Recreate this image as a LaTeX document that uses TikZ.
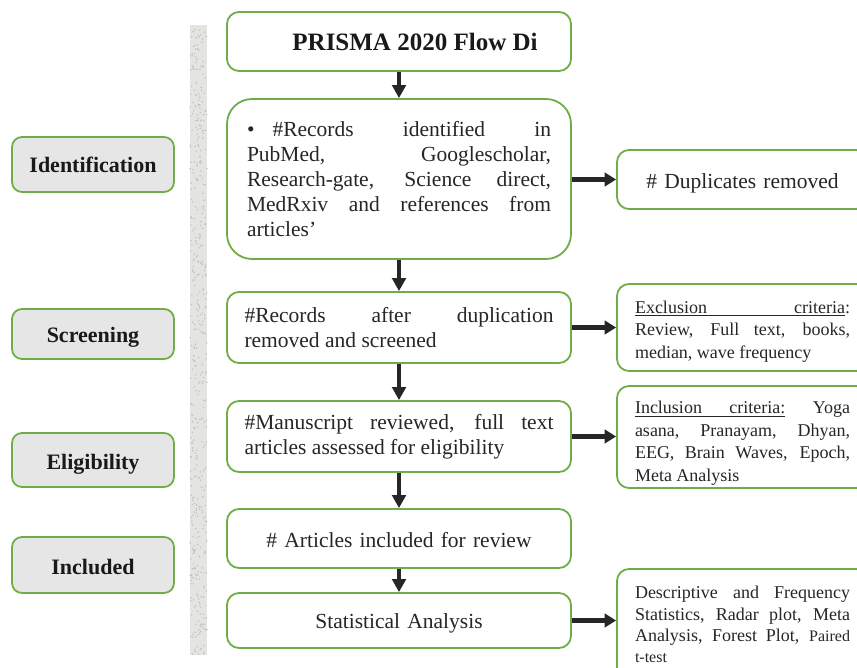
\documentclass[tikz,border=0pt]{standalone}
\usepackage{fontspec}
\setmainfont{Liberation Serif}
\usetikzlibrary{arrows.meta}
\definecolor{grn}{HTML}{70AD47}
\definecolor{lbl}{HTML}{E7E6E6}
\definecolor{strip}{HTML}{E4E4E0}
\definecolor{txt}{HTML}{262626}
\newcommand\ulw[1]{\setbox0\hbox{#1}\rlap{\rule[-2.6pt]{\wd0}{0.9pt}}\box0\relax}
\newcommand\ulsp{\leaders\hrule height -1.7pt depth 2.6pt\hskip\fontdimen2\font plus\fontdimen3\font minus\fontdimen4\font}
\newcommand\tp[1]{\rule{0pt}{#1pt}}
\begin{document}
\begin{tikzpicture}[x=1pt,y=-1pt,
  box/.style={draw=grn, line width=1.8pt, rounded corners=12pt, fill=white, inner sep=0pt, text=txt},
  mainbox/.style={box, minimum width=344pt, text width=309pt, align=justify, font=\fontsize{21.5}{25}\selectfont},
  sidebox/.style={box, minimum width=251pt, text width=215pt, align=justify, font=\fontsize{18}{22.5}\selectfont},
  stagebox/.style={box, fill=lbl, rounded corners=10pt, minimum width=162pt, font=\bfseries\fontsize{22}{26}\selectfont, text=black!90},
  varr/.style={line width=4.6pt, -{Triangle[length=13pt,width=13.5pt]}, draw=black!85},
  harr/.style={line width=5.5pt, -{Triangle[length=11.5pt,width=13.5pt]}, draw=black!85}
]
\clip (0,0) rectangle (857,668);
\fill[white] (0,0) rectangle (857,668);
% textured strip
\fill[strip] (190,25) rectangle (207,655);
\pgfmathsetseed{7}
\foreach \i in {1,...,450}{
  \pgfmathsetmacro\xx{190+17*rnd}
  \pgfmathsetmacro\yy{25+630*rnd}
  \fill[gray!50] (\xx,\yy) circle (0.8pt);
}
% stage labels
\node[stagebox, minimum height=55pt] (sid) at (93,164.5) {Identification};
\node[stagebox, minimum height=50pt] (ssc) at (93,334) {\tp{21}Screening};
\node[stagebox, minimum height=54pt] (sel) at (93,460) {\tp{23}Eligibility};
\node[stagebox, minimum height=56pt] (sin) at (93,565) {\tp{19}Included};
% main column
\node[box, minimum width=344pt, minimum height=59pt, font=\bfseries\fontsize{25}{30}\selectfont, text=black!90] (title) at (399,41.5) {\hspace*{32pt}PRISMA 2020 Flow Di};
\node[mainbox, rounded corners=25pt, minimum height=160pt, text width=304pt] (b1) at (399,179)
 {\hangindent=17pt\hangafter=1 \textbullet\hspace{18pt}\#Records identified in\linebreak PubMed, Googlescholar,\linebreak Research-gate, Science direct,\linebreak MedRxiv and references from\linebreak articles'};
\node[mainbox, minimum height=71pt] (b2) at (399,327.5) {\#Records after duplication\linebreak removed and screened};
\node[mainbox, minimum height=71pt] (b3) at (399,436.5) {\#Manuscript reviewed, full text\linebreak articles assessed for eligibility};
\node[mainbox, minimum height=59pt, align=center] (b4) at (399,538.5) {\tp{18.5}\# Articles included for review};
\node[mainbox, minimum height=55pt, align=center] (b5) at (399,620.5) {\tp{20.5}Statistical Analysis};
% side column
\node[sidebox, minimum height=59pt, align=center, font=\fontsize{21.5}{25}\selectfont] (dup) at (742.5,179.5) {\tp{22.5}\# Duplicates removed};
\node[sidebox, minimum height=87pt] (exc) at (742.5,327.5) {\tp{20}\ulw{Exclusion}\ulsp\ulw{criteria}:\linebreak Review, Full text, books,\linebreak median, wave frequency};
\node[sidebox, minimum height=102pt] (inc) at (742.5,437) {\tp{25}\ulw{Inclusion}\ulsp\ulw{criteria:} Yoga\linebreak asana, Pranayam, Dhyan,\linebreak EEG, Brain Waves, Epoch,\linebreak Meta Analysis};
\node[sidebox, minimum height=111pt, font=\fontsize{18}{21.2}\selectfont] (sta) at (742.5,624.5) {Descriptive and Frequency\linebreak Statistics, Radar plot, Meta\linebreak Analysis, Forest Plot, {\fontsize{16}{21}\selectfont Paired}\linebreak {\fontsize{16}{21}\selectfont t-test}};
% connectors
\draw[varr] (title.south) -- (b1.north);
\draw[varr] (b1.south) -- (b2.north);
\draw[varr] (b2.south) -- (b3.north);
\draw[varr] (b3.south) -- (b4.north);
\draw[varr] (b4.south) -- (b5.north);
\draw[harr] (dup.west -| b1.east) -- (dup.west);
\draw[harr] (b2.east) -- (exc.west |- b2.east);
\draw[harr] (b3.east) -- (inc.west |- b3.east);
\draw[harr] (b5.east) -- (sta.west |- b5.east);
\end{tikzpicture}
\end{document}
